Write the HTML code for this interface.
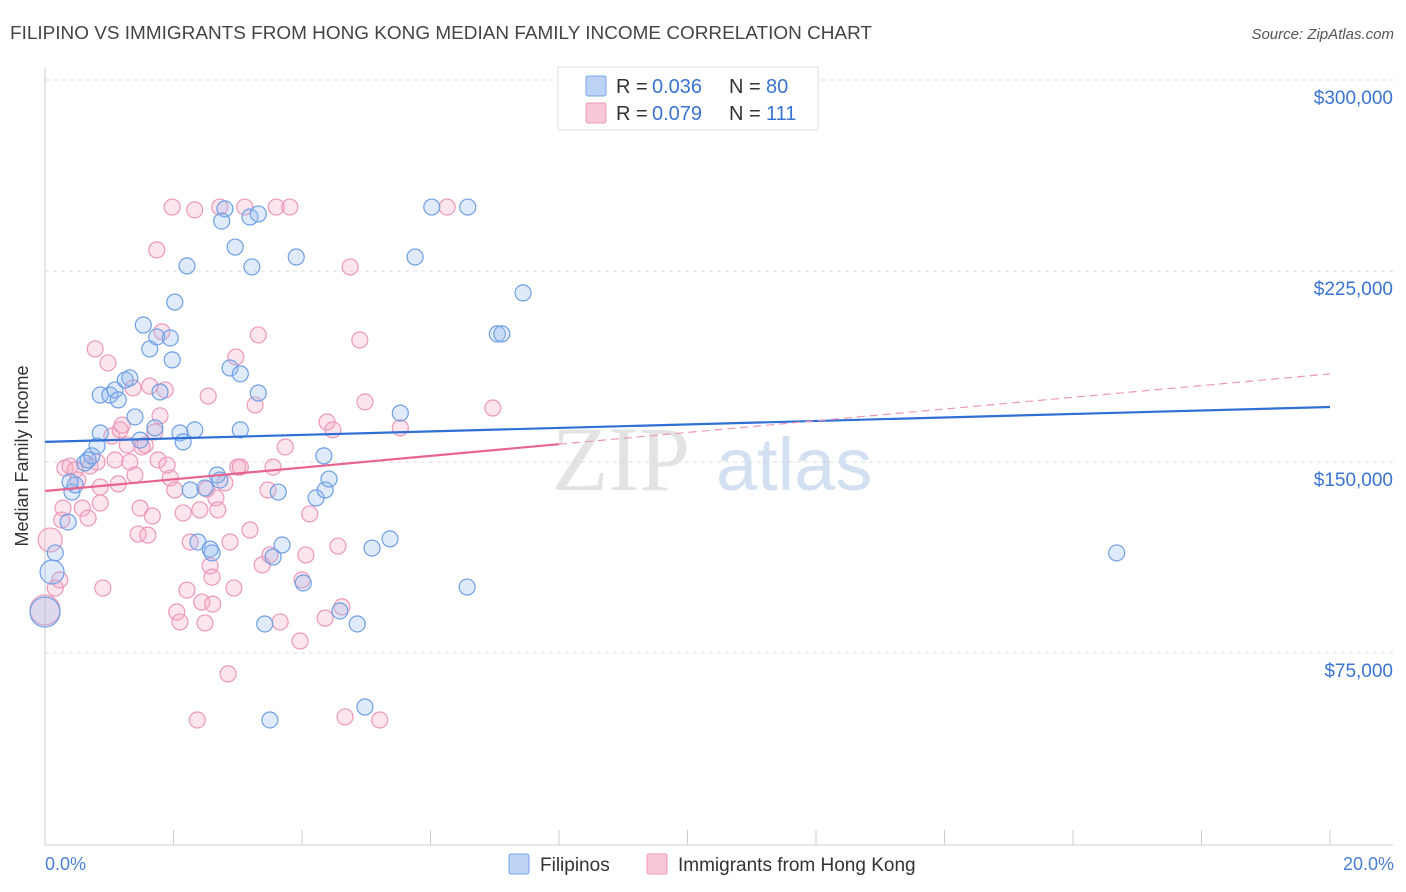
<!DOCTYPE html>
<html><head><meta charset="utf-8">
<style>
body{margin:0;background:#fff;font-family:"Liberation Sans",sans-serif;}
svg{display:block}
</style></head>
<body>
<svg id="chart" width="1406" height="892">
<text x="10" y="39" font-size="18" fill="#444" textLength="862" lengthAdjust="spacingAndGlyphs">FILIPINO VS IMMIGRANTS FROM HONG KONG MEDIAN FAMILY INCOME CORRELATION CHART</text>
<text x="1394" y="39" font-size="15" fill="#555" font-style="italic" text-anchor="end">Source: ZipAtlas.com</text>
<g id="grid"></g>
<g>
<text x="552" y="490" font-size="92" fill="#ddd" font-family="Liberation Serif,serif" opacity="0.8">ZIP</text>
<text x="716" y="490" font-size="74" fill="#c7d9ef" opacity="0.8">atlas</text>
</g>
<g id="points"></g>
<g id="trends"></g>
<text x="28" y="456" font-size="18" fill="#333" text-anchor="middle" transform="rotate(-90 28 456)">Median Family Income</text>
<text x="45" y="870" font-size="18" fill="#4a7fd4">0.0%</text>
<text x="1394" y="870" font-size="18" fill="#4a7fd4" text-anchor="end">20.0%</text>
<g>
<rect x="558" y="67" width="260" height="63" fill="#fff" stroke="#ddd"/>
<rect x="586" y="76" width="20" height="20" fill="#bcd3f5" stroke="#7aa6e8" rx="2"/>
<text x="616" y="93" font-size="20" fill="#333">R = </text>
<text x="652" y="93" font-size="20" fill="#3a74d2">0.036</text>
<text x="729" y="93" font-size="20" fill="#333">N = </text>
<text x="766" y="93" font-size="20" fill="#3a74d2">80</text>
<rect x="586" y="103" width="20" height="20" fill="#f8c8d8" stroke="#ec9ab8" rx="2"/>
<text x="616" y="120" font-size="20" fill="#333">R = </text>
<text x="652" y="120" font-size="20" fill="#3a74d2">0.079</text>
<text x="729" y="120" font-size="20" fill="#333">N = </text>
<text x="766" y="120" font-size="20" fill="#3a74d2">111</text>
</g>
<g>
<rect x="509" y="854" width="20" height="20" fill="#bcd3f5" stroke="#7aa6e8" rx="2"/>
<text x="540" y="871" font-size="19" fill="#333">Filipinos</text>
<rect x="647" y="854" width="20" height="20" fill="#f8c8d8" stroke="#ec9ab8" rx="2"/>
<text x="678" y="871" font-size="19" fill="#333">Immigrants from Hong Kong</text>
</g>
</svg>
<script>
const yTicks=[75000,150000,225000,300000];
const yTickLabels=["$75,000","$150,000","$225,000","$300,000"];
const xTicks=[0,2,4,6,8,10,12,14,16,18,20];
const blueX=[0,.11,.16,.36,.42,.47,.39,.62,.67,.73,.86,.81,.86,1.01,1.09,1.14,1.25,1.32,1.40,1.48,1.53,1.63,1.71,1.74,1.79,1.95,1.98,2.02,2.10,2.15,2.21,2.26,2.33,2.38,2.49,2.57,2.60,2.68,2.72,2.80,2.75,2.88,2.96,3.04,3.04,3.19,3.22,3.32,3.32,3.42,3.50,3.55,3.63,3.69,3.91,4.02,4.22,4.34,4.36,4.42,4.59,4.86,4.98,5.09,5.37,5.53,5.76,6.02,6.58,6.57,7.04,7.11,7.44,16.68];
const blueY=[91.1,106.8,114.3,126.4,138.2,141.0,142.2,149.6,150.8,152.4,161.4,156.3,176.3,176.3,178.3,174.4,182.2,183.0,167.7,158.6,203.8,194.4,163.4,199.1,177.5,198.7,190.1,212.8,161.4,157.9,227.0,139.0,162.6,118.6,139.8,115.8,114.3,144.9,142.9,249.4,244.6,186.9,234.4,184.6,162.6,246.2,226.6,247.4,177.1,86.4,48.7,112.7,138.2,117.4,230.5,102.5,135.9,152.4,139.0,143.3,91.5,86.4,53.8,116.2,119.8,169.2,230.5,250.1,250.1,100.9,200.3,200.3,216.4,114.3];
const pinkX=[0,.08,.16,.23,.26,.28,.31,.39,.47,.51,.58,.67,.70,.78,.81,.86,.86,.90,.98,1.04,1.09,1.14,1.17,1.20,1.28,1.32,1.37,1.40,1.45,1.48,1.51,1.56,1.60,1.63,1.67,1.71,1.74,1.76,1.79,1.82,1.87,1.90,1.95,1.98,2.02,2.05,2.10,2.15,2.21,2.26,2.33,2.37,2.41,2.44,2.49,2.52,2.54,2.57,2.60,2.61,2.66,2.69,2.72,2.80,2.85,2.88,2.94,2.97,3.00,3.04,3.11,3.19,3.27,3.32,3.38,3.47,3.50,3.55,3.60,3.66,3.74,3.81,3.97,4.00,4.06,4.12,4.36,4.39,4.48,4.56,4.62,4.67,4.75,4.90,4.98,5.21,5.53,6.26,6.97];
const pinkY=[91.9,119.4,100.5,103.7,127.2,131.9,147.6,148.4,146.9,142.9,131.9,128.0,148.4,194.4,150.0,140.2,133.9,100.5,188.9,160.2,150.8,141.4,162.6,164.5,156.7,150.0,179.1,144.9,121.7,131.9,155.9,156.7,121.3,179.8,128.8,161.8,233.3,150.8,168.1,201.1,178.3,148.8,143.7,250.1,139.0,91.1,87.2,130.0,99.7,118.6,249.0,48.7,131.2,95.0,86.8,139.4,175.9,109.2,104.8,94.2,135.9,131.2,250.1,141.8,66.8,118.6,100.5,191.2,148.0,148.0,250.1,123.3,172.4,199.9,109.6,139.0,113.5,148.0,250.1,87.2,155.9,250.1,79.7,103.7,113.5,129.6,88.7,165.7,162.6,117.0,93.1,49.9,226.6,197.9,173.6,48.7,163.4,250.1,171.2];
const blueTrend=[157900,171600];
const pinkTrend=[138600,184600];
const pinkSolidEnd=8;

const NS="http://www.w3.org/2000/svg";
const X=v=>45+v/20*1285;
const Y=v=>653-(v-75000)/75000*191;
function mk(tag,attrs,parent){const e=document.createElementNS(NS,tag);for(const k in attrs)e.setAttribute(k,attrs[k]);parent.appendChild(e);return e;}
const grid=document.getElementById('grid');
yTicks.forEach((t,i)=>{
  const l=mk('line',{x1:45,x2:1393,y1:Y(t),y2:Y(t),stroke:'#ddd','stroke-dasharray':'4,4'},grid);
  
  
  const tx=mk('text',{x:1393,y:Y(t)+24,'font-size':19,fill:'#3a74d2','text-anchor':'end'},grid);
  tx.textContent=yTickLabels[i];
  
  
});
const ya=mk('line',{x1:45,x2:45,y1:68,y2:845,stroke:'#ccc'},grid);


const xa=mk('line',{x1:45,x2:1393,y1:845,y2:845,stroke:'#ccc'},grid);


xTicks.forEach(t=>{
  const l=mk('line',{x1:X(t),x2:X(t),y1:830,y2:845,stroke:'#ccc'},grid);
  
  
});
const pts=document.getElementById('points');
function draw(xs,ys,fill,stroke,name){
  xs.forEach((x,i)=>{
    const big=i<2&&x<0.2;
    const c=mk('circle',{cx:X(x),cy:Y(ys[i]*1000),r:big?(i==0?15:12):8,fill:fill,stroke:stroke,'stroke-width':1.2},pts);
    
    
  });
}
draw(pinkX,pinkY,'rgba(245,170,195,0.3)','#eb98b6','point-hongkong');
draw(blueX,blueY,'rgba(150,185,240,0.3)','#6f9fe4','point-filipinos');
const tr=document.getElementById('trends');
const bl=mk('line',{x1:X(0),y1:Y(blueTrend[0]),x2:X(20),y2:Y(blueTrend[1]),stroke:'#2f6fd6','stroke-width':2.2},tr);


const pm=pinkTrend[0]+(pinkTrend[1]-pinkTrend[0])*pinkSolidEnd/20;
const ps=mk('line',{x1:X(0),y1:Y(pinkTrend[0]),x2:X(pinkSolidEnd),y2:Y(pm),stroke:'#e8648f','stroke-width':2.2},tr);


const pd=mk('line',{x1:X(pinkSolidEnd),y1:Y(pm),x2:X(20),y2:Y(pinkTrend[1]),stroke:'#eb98b6','stroke-width':1.2,'stroke-dasharray':'8,5'},tr);


</script>
</body></html>
